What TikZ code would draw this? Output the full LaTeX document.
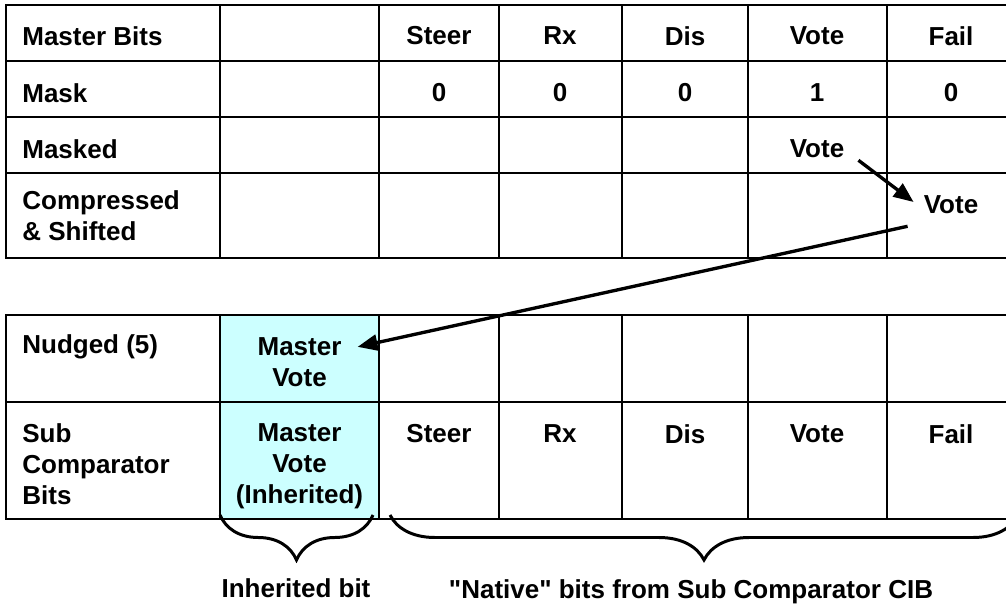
\documentclass[tikz,border=0pt]{standalone}
\usepackage{fontspec}
\setmainfont{Liberation Sans}[Ligatures=TeXOff]
\usepackage{xcolor}
\usetikzlibrary{arrows.meta,positioning,calc,decorations.pathreplacing}
\definecolor{PaleCyan}{RGB}{204,255,255}

\begin{document}
\begin{tikzpicture}[x=0.02cm, y=-0.02cm,
  every node/.style={font=\bfseries\fontsize{14.8}{17.6}\selectfont},
  rowname/.style={anchor=west, align=left, inner sep=0pt},
  bit/.style={align=center},
  grid/.style={line width=1.4pt},
  arr/.style={-{Triangle[length=0.4cm, width=0.32cm]}, line width=1.9pt},
  brc/.style={decorate, decoration={brace, mirror, amplitude=0.9cm}, line width=1.7pt}]
\useasboundingbox (0,0) rectangle (1006,608);
\clip (0,0) rectangle (1006,608);
\fill[PaleCyan] (220,315) rectangle (379,519);
\draw[grid] (1020,5) -- (6,5) -- (6,258) -- (1020,258);
\foreach \y in {61,117,173} \draw[grid] (6,\y) -- (1020,\y);
\foreach \x in {220,379,499,622,748,887} \draw[grid] (\x,5) -- (\x,258);
\draw[grid] (1020,315) -- (6,315) -- (6,519) -- (1020,519);
\draw[grid] (6,402) -- (1020,402);
\foreach \x in {220,379,499,622,748,887} \draw[grid] (\x,315) -- (\x,519);
\node[rowname] (mbits) at (22,36) {Master Bits};
\node[rowname] (mask) at (22,93) {Mask};
\node[rowname] (masked) at (22,149) {Masked};
\node[rowname] (comp) at (22,216) {Compressed\\\& Shifted};
\node[rowname] (nudged) at (22,347) {Nudged (5)};
\node[rowname] (subbits) at (22,464) {Sub\\Comparator\\Bits};
\foreach \t/\x [count=\i] in {Steer/439,Rx/560,Dis/685,Vote/817,Fail/951}
  \node[bit] (hdr\i) at (\x,36) {\t};
\foreach \t/\x [count=\i] in {0/439,0/560,0/685,1/817,0/951}
  \node[bit] (mbit\i) at (\x,93) {\t};
\node[bit] (mvote) at (817,149) {Vote};
\node[bit] (cvote) at (951,205) {Vote};
\node[bit] (nvote) at (299.5,362.5) {Master\\Vote};
\node[bit] (ivote) at (299.5,466) {Master\\Vote\\(Inherited)};
\foreach \t/\x [count=\i] in {Steer/439,Rx/560,Dis/685,Vote/817,Fail/951}
  \node[bit] (sbit\i) at (\x,434) {\t};
\draw[arr] ([xshift=0.16cm, yshift=0.08cm]mvote.south east) -- ([xshift=-0.08cm, yshift=0.06cm]cvote.west);
\draw[arr] ([xshift=-0.2cm, yshift=-0.12cm]cvote.south west) -- ([xshift=0.2cm]nvote.18);
\draw[brc] (220,515) -- (373,515);
\draw[brc] (390,515) -- (1018,515);
\node (inhlbl) at (296,588) {Inherited bit};
\node (natlbl) at (691,592) {"Native" bits from Sub Comparator CIB};
\end{tikzpicture}
\end{document}
